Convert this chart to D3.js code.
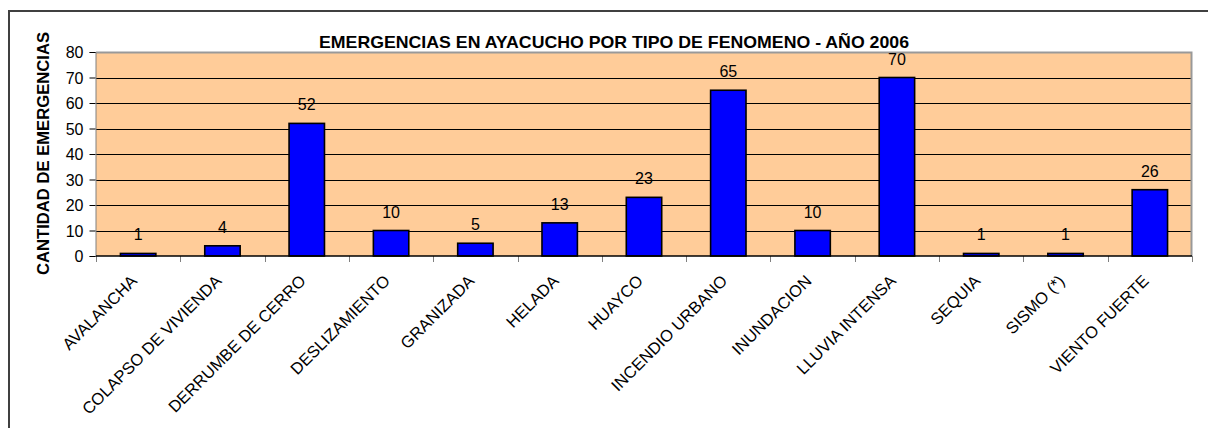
<!DOCTYPE html>
<html>
<head>
<meta charset="utf-8">
<script src="https://cdn.jsdelivr.net/npm/d3@7"></script>
<style>
  html, body { margin: 0; background: #fff; overflow: hidden; }
  svg { display: block; }
  text { font-family: "Liberation Sans", Arial, sans-serif; fill: #000; }
</style>
</head>
<body>
<div id="chart"></div>
<script>
var categories = ["AVALANCHA", "COLAPSO DE VIVIENDA", "DERRUMBE DE CERRO", "DESLIZAMIENTO",
    "GRANIZADA", "HELADA", "HUAYCO", "INCENDIO URBANO", "INUNDACION", "LLUVIA INTENSA",
    "SEQUIA", "SISMO (*)", "VIENTO FUERTE"];
var values = [1, 4, 52, 10, 5, 13, 23, 65, 10, 70, 1, 1, 26];
var yTicks = [0, 10, 20, 30, 40, 50, 60, 70, 80];
var title = "EMERGENCIAS EN AYACUCHO POR TIPO DE FENOMENO - AÑO 2006";
var yTitle = "CANTIDAD DE EMERGENCIAS";

var W = 1208, H = 428;
var plot = { left: 96, right: 1192, top: 52, bottom: 256 };

var svg = d3.select("#chart").append("svg")
    .attr("width", W)
    .attr("height", H);

// outer frame: only top and left edges are inside the picture
svg.append("path")
    .attr("d", "M9," + H + "V11H" + W)
    .attr("fill", "none")
    .attr("stroke", "#404040")
    .attr("stroke-width", 2);

var x = d3.scaleBand()
    .domain(categories)
    .range([plot.left, plot.right])
    .paddingInner(0.58)
    .paddingOuter(0.29);

var y = d3.scaleLinear()
    .domain([0, 80])
    .range([plot.bottom, plot.top]);

// plot background
svg.append("rect")
    .attr("x", plot.left).attr("y", plot.top)
    .attr("width", plot.right - plot.left)
    .attr("height", plot.bottom - plot.top)
    .attr("fill", "#FFCC99");

// gridlines
svg.append("g")
    .selectAll("line")
    .data(yTicks.filter(d => d > 0 && d < 80))
    .enter().append("line")
    .attr("x1", plot.left).attr("x2", plot.right)
    .attr("y1", d => Math.round(y(d)) + 0.5)
    .attr("y2", d => Math.round(y(d)) + 0.5)
    .attr("stroke", "#000")
    .attr("stroke-width", 1);

// top and right border of the plot area
svg.append("path")
    .attr("d", "M" + plot.left + "," + (plot.top + 0.5) + "H" + (plot.right - 0.5) + "V" + plot.bottom)
    .attr("fill", "none")
    .attr("stroke", "#999")
    .attr("stroke-width", 2);

// y axis
var yAxis = svg.append("g")
    .attr("transform", "translate(" + (plot.left - 0.5) + ",0)")
    .call(d3.axisLeft(y).tickValues(yTicks).tickSize(6).tickPadding(6));
yAxis.select(".domain").attr("stroke", "#808080");
yAxis.selectAll(".tick line").attr("stroke", "#000");
yAxis.selectAll(".tick text")
    .style("font-size", "16px")
    .attr("dy", "0.36em");

// x axis: ticks on category boundaries
var bounds = d3.range(categories.length + 1).map(i => plot.left + i * x.step());
svg.append("g")
    .selectAll("line")
    .data(bounds)
    .enter().append("line")
    .attr("x1", d => Math.round(d) + 0.5).attr("x2", d => Math.round(d) + 0.5)
    .attr("y1", plot.bottom).attr("y2", plot.bottom + 6)
    .attr("stroke", "#808080");

// bars
svg.append("g")
    .selectAll("rect")
    .data(values)
    .enter().append("rect")
    .attr("x", (d, i) => x(categories[i]))
    .attr("y", d => y(d))
    .attr("width", x.bandwidth())
    .attr("height", d => plot.bottom - y(d))
    .attr("fill", "#0000FF")
    .attr("stroke", "#000")
    .attr("stroke-width", 1.6);

svg.append("line")
    .attr("x1", plot.left).attr("x2", plot.right)
    .attr("y1", plot.bottom).attr("y2", plot.bottom)
    .attr("stroke", "#000")
    .attr("stroke-width", 1.5);

// value labels
svg.append("g")
    .selectAll("text")
    .data(values)
    .enter().append("text")
    .attr("x", (d, i) => x(categories[i]) + x.bandwidth() / 2)
    .attr("y", d => y(d) - 13)
    .attr("text-anchor", "middle")
    .style("font-size", "16px")
    .text(d => d);

// category labels, rotated
svg.append("g")
    .selectAll("text")
    .data(categories)
    .enter().append("text")
    .attr("transform", d => "translate(" + (x(d) + x.bandwidth() / 2) + "," + (plot.bottom + 26) + ") rotate(-45)")
    .attr("text-anchor", "end")
    .style("font-size", "16.5px")
    .text(d => d);

// chart title
svg.append("text")
    .attr("x", 614)
    .attr("y", 47.5)
    .attr("text-anchor", "middle")
    .attr("textLength", 590)
    .attr("lengthAdjust", "spacingAndGlyphs")
    .style("font-size", "17px")
    .style("font-weight", "bold")
    .text(title);

// y axis title
svg.append("text")
    .attr("transform", "translate(49,153.5) rotate(-90)")
    .attr("text-anchor", "middle")
    .attr("textLength", 243)
    .attr("lengthAdjust", "spacingAndGlyphs")
    .style("font-size", "16px")
    .style("font-weight", "bold")
    .text(yTitle);
</script>
</body>
</html>
